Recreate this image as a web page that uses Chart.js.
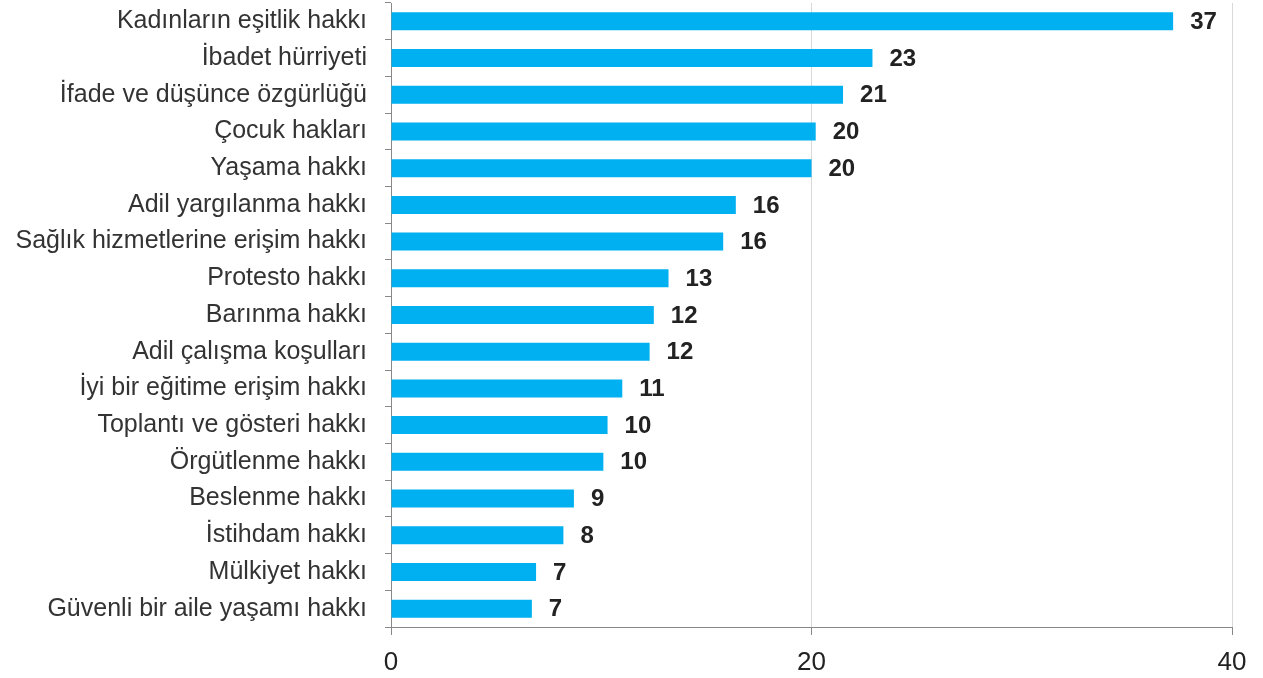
<!DOCTYPE html>
<html>
<head>
<meta charset="utf-8">
<script src="https://cdn.jsdelivr.net/npm/chart.js@4"></script>
<style>
  html, body { margin: 0; padding: 0; background: #fff; }
  #wrap { width: 1263px; height: 678px; }
</style>
</head>
<body>
<div id="wrap"><canvas id="chart"></canvas></div>
<script>
// ---------- Data ----------
const categories = [
  "Kadınların eşitlik hakkı",
  "İbadet hürriyeti",
  "İfade ve düşünce özgürlüğü",
  "Çocuk hakları",
  "Yaşama hakkı",
  "Adil yargılanma hakkı",
  "Sağlık hizmetlerine erişim hakkı",
  "Protesto hakkı",
  "Barınma hakkı",
  "Adil çalışma koşulları",
  "İyi bir eğitime erişim hakkı",
  "Toplantı ve gösteri hakkı",
  "Örgütlenme hakkı",
  "Beslenme hakkı",
  "İstihdam hakkı",
  "Mülkiyet hakkı",
  "Güvenli bir aile yaşamı hakkı"
];
const values = [37.2, 22.9, 21.5, 20.2, 20.0, 16.4, 15.8, 13.2, 12.5, 12.3, 11.0, 10.3, 10.1, 8.7, 8.2, 6.9, 6.7];
const valueLabels = ["37", "23", "21", "20", "20", "16", "16", "13", "12", "12", "11", "10", "10", "9", "8", "7", "7"];
const xTicks = [0, 20, 40];

// ---------- Value labels at bar ends ----------
const barLabels = {
  id: "barLabels",
  afterDatasetsDraw(chart) {
    const ctx = chart.ctx;
    const meta = chart.getDatasetMeta(0);
    ctx.save();
    ctx.font = "bold 24px 'Liberation Sans', Arial, sans-serif";
    ctx.fillStyle = "#222222";
    ctx.textAlign = "left";
    ctx.textBaseline = "middle";
    meta.data.forEach((bar, i) => {
      ctx.fillText(valueLabels[i], bar.x + 17, bar.y + 1);
    });
    ctx.restore();
  }
};

// ---------- Chart ----------
const ctx = document.getElementById("chart").getContext("2d");
new Chart(ctx, {
  type: "bar",
  data: {
    labels: categories,
    datasets: [{
      data: values,
      backgroundColor: "#00b0f0",
      borderWidth: 0,
      categoryPercentage: 1,
      barPercentage: 0.49
    }]
  },
  options: {
    indexAxis: "y",
    responsive: true,
    maintainAspectRatio: false,
    animation: false,
    layout: { padding: { top: 3, right: 31, left: 0, bottom: 0 } },
    plugins: {
      legend: { display: false },
      tooltip: { enabled: false }
    },
    scales: {
      x: {
        min: 0,
        max: 40,
        afterBuildTicks: (scale) => { scale.ticks = xTicks.map(v => ({ value: v })); },
        afterFit: (scale) => { scale.height = 51; scale.paddingLeft = 0; scale.paddingRight = 0; },
        border: { color: "#888888", width: 1 },
        grid: { color: "#d9d9d9", tickColor: "#888888", tickLength: 8, lineWidth: 1 },
        ticks: {
          color: "#222222",
          padding: 12,
          maxRotation: 0,
          font: { family: "'Liberation Sans', Arial, sans-serif", size: 26 }
        }
      },
      y: {
        afterFit: (scale) => { scale.width = 391; scale.paddingTop = 0; scale.paddingBottom = 0; },
        border: { color: "#888888", width: 1 },
        grid: { offset: true, drawOnChartArea: false, color: "#888888", tickLength: 6 },
        ticks: {
          color: "#333333",
          padding: 18,
          autoSkip: false,
          font: { family: "'Liberation Sans', Arial, sans-serif", size: 25 }
        }
      }
    }
  },
  plugins: [barLabels]
});
</script>
</body>
</html>
